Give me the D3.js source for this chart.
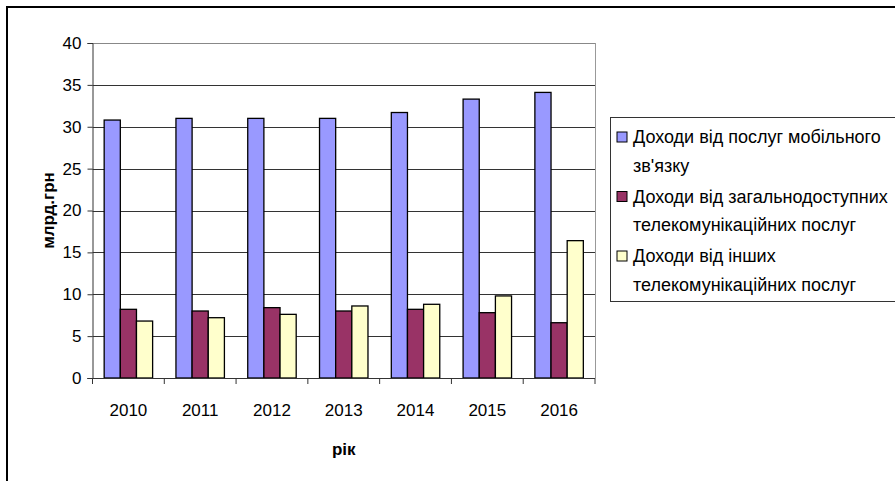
<!DOCTYPE html>
<html>
<head>
<meta charset="utf-8">
<script src="https://cdn.jsdelivr.net/npm/d3@7"></script>
<style>
  body { margin: 0; background: #fff; }
  text { font-family: "Liberation Sans", Arial, sans-serif; fill: #000; }
</style>
</head>
<body>
<div id="chart"></div>
<script>
// дані
var years = ["2010", "2011", "2012", "2013", "2014", "2015", "2016"];
var mobile = [30.8, 31.0, 31.0, 31.0, 31.7, 33.3, 34.1];
var publicTel = [8.2, 8.0, 8.4, 8.0, 8.2, 7.8, 6.6];
var other = [6.8, 7.2, 7.6, 8.6, 8.8, 9.8, 16.4];
var yTicks = [0, 5, 10, 15, 20, 25, 30, 35, 40];
var seriesNames = [
  ["Доходи від послуг мобільного", "зв'язку"],
  ["Доходи від загальнодоступних", "телекомунікаційних послуг"],
  ["Доходи від інших", "телекомунікаційних послуг"]
];
var colors = ["#9999ff", "#993366", "#ffffcc"];

var series = [mobile, publicTel, other];

var width = 895;
var height = 481;

var svg = d3.select("#chart").append("svg")
    .attr("width", width)
    .attr("height", height);

// рамка
svg.append("line").attr("x1", 6).attr("x2", width).attr("y1", 7).attr("y2", 7)
    .attr("stroke", "#000").attr("stroke-width", 2);
svg.append("line").attr("x1", 7).attr("x2", 7).attr("y1", 6).attr("y2", height)
    .attr("stroke", "#000").attr("stroke-width", 2);

var plotLeft = 92.5, plotRight = 595, plotTop = 43, plotBottom = 378;

var x0 = d3.scaleBand()
    .domain(years)
    .range([plotLeft, plotRight])
    .paddingInner(0.325)
    .paddingOuter(0.1625);

var x1 = d3.scaleBand()
    .domain([0, 1, 2])
    .range([0, x0.bandwidth()]);

var y = d3.scaleLinear()
    .domain([0, 40])
    .range([plotBottom, plotTop]);

// сітка
svg.selectAll(".grid")
  .data(yTicks.slice(1))
  .enter().append("line")
    .attr("x1", plotLeft).attr("x2", plotRight)
    .attr("y1", function(d) { return Math.round(y(d)) + 0.5; })
    .attr("y2", function(d) { return Math.round(y(d)) + 0.5; })
    .attr("stroke", function(d) { return d == 40 ? "#888" : "#333"; })
    .attr("stroke-width", 1);

svg.append("line")
    .attr("x1", plotRight + 0.5).attr("x2", plotRight + 0.5)
    .attr("y1", plotTop).attr("y2", plotBottom)
    .attr("stroke", "#999");

// стовпці
var groups = svg.selectAll(".year")
  .data(years)
  .enter().append("g")
    .attr("transform", function(d) { return "translate(" + x0(d) + ",0)"; });

groups.selectAll("rect")
  .data(function(d, i) { return series.map(function(s, k) { return { k: k, v: s[i] }; }); })
  .enter().append("rect")
    .attr("x", function(d) { return x1(d.k); })
    .attr("y", function(d) { return y(d.v); })
    .attr("width", x1.bandwidth())
    .attr("height", function(d) { return plotBottom - y(d.v); })
    .attr("fill", function(d) { return colors[d.k]; })
    .attr("stroke", "#000")
    .attr("stroke-width", 1.3);

// осі
var yAxis = d3.axisLeft(y).tickValues(yTicks).tickSize(5).tickPadding(6);
var gy = svg.append("g")
    .attr("transform", "translate(" + plotLeft + ",0)")
    .call(yAxis);
gy.select(".domain").attr("stroke", "#333");
gy.selectAll("line").attr("stroke", "#333");
gy.selectAll("text")
    .attr("font-size", 17)
    .attr("font-family", "Liberation Sans, Arial, sans-serif");

var xBoundary = d3.scaleLinear().domain([0, years.length]).range([plotLeft, plotRight]);
svg.append("line")
    .attr("x1", plotLeft - 5).attr("x2", plotRight)
    .attr("y1", plotBottom + 0.5).attr("y2", plotBottom + 0.5)
    .attr("stroke", "#333");
svg.selectAll(".xtick")
  .data(d3.range(years.length + 1))
  .enter().append("line")
    .attr("x1", function(d) { return xBoundary(d); })
    .attr("x2", function(d) { return xBoundary(d); })
    .attr("y1", plotBottom).attr("y2", plotBottom + 6)
    .attr("stroke", "#333");

svg.selectAll(".xlabel")
  .data(years)
  .enter().append("text")
    .attr("x", function(d) { return x0(d) + x0.bandwidth() / 2; })
    .attr("y", 416)
    .attr("text-anchor", "middle")
    .attr("font-size", 17)
    .text(function(d) { return d; });

// підписи осей
svg.append("text")
    .attr("x", (plotLeft + plotRight) / 2)
    .attr("y", 455)
    .attr("text-anchor", "middle")
    .attr("font-size", 17)
    .attr("font-weight", "bold")
    .text("рік");

svg.append("text")
    .attr("transform", "translate(54," + ((plotTop + plotBottom) / 2) + ") rotate(-90)")
    .attr("text-anchor", "middle")
    .attr("font-size", 17)
    .attr("font-weight", "bold")
    .text("млрд.грн");

// легенда
var legend = svg.append("g");
legend.append("rect")
    .attr("x", 610.5).attr("y", 117.5)
    .attr("width", 300).attr("height", 184)
    .attr("fill", "#fff")
    .attr("stroke", "#333");

var entries = legend.selectAll(".entry")
  .data(seriesNames)
  .enter().append("g")
    .attr("transform", function(d, i) { return "translate(617," + (143 + i * 59.5) + ")"; });

entries.append("rect")
    .attr("x", 0).attr("y", -11)
    .attr("width", 10).attr("height", 10)
    .attr("fill", function(d, i) { return colors[i]; })
    .attr("stroke", "#000");

entries.selectAll("text")
  .data(function(d) { return d; })
  .enter().append("text")
    .attr("x", 16)
    .attr("y", function(d, i) { return i * 28.5; })
    .attr("font-size", 18)
    .text(function(d) { return d; });
</script>
</body>
</html>
